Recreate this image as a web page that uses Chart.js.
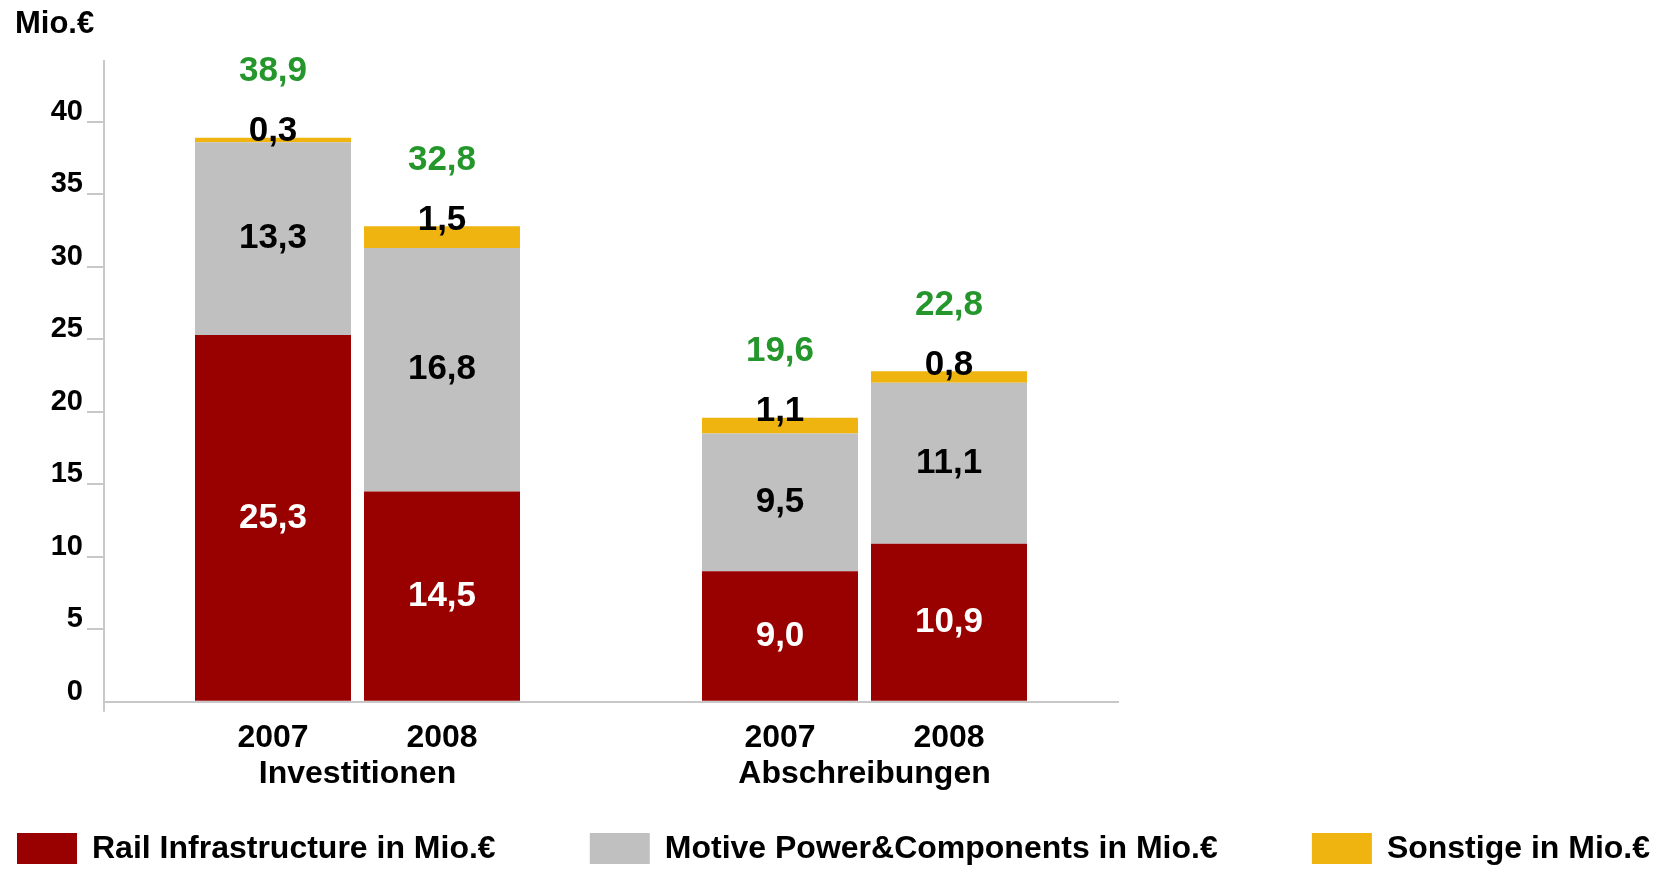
<!DOCTYPE html>
<html>
<head>
<meta charset="utf-8">
<script src="https://cdn.jsdelivr.net/npm/chart.js@4.4.1/dist/chart.umd.min.js"></script>
<style>
  html, body { margin: 0; padding: 0; background: #fff; }
</style>
</head>
<body>
<canvas id="chart" width="1657" height="869"></canvas>
<script>
// values in Mio.€
var groups = ["Investitionen", "Abschreibungen"];
var years = ["2007", "2008"];
var rail = [25.3, 14.5, 9.0, 10.9];
var motive = [13.3, 16.8, 9.5, 11.1];
var other = [0.3, 1.5, 1.1, 0.8];
var seriesNames = ["Rail Infrastructure in Mio.€", "Motive Power&Components in Mio.€", "Sonstige in Mio.€"];
var yTicksMax = 40;

var FONT = "'Liberation Sans', Arial, sans-serif";
var GREEN = "#24962c";
var AXIS = "#c8c8c8";

// one empty slot before, between and after the two groups
var xLabels = [""];
groups.forEach(function(g) {
    years.forEach(function(y) { xLabels.push(y); });
    xLabels.push("");
});

function pad(values) {
    var out = [null];
    groups.forEach(function(g, gi) {
        years.forEach(function(y, yi) { out.push(values[gi * years.length + yi]); });
        out.push(null);
    });
    return out;
}

function fmt(v) {
    return v.toFixed(1).replace(".", ",");
}

var labelColors = ["#ffffff", "#000000", "#000000"];

var valueLabels = {
    id: "valueLabels",
    afterDatasetsDraw: function(chart) {
        var ctx = chart.ctx;
        ctx.save();
        ctx.font = "bold 35px " + FONT;
        ctx.textAlign = "center";
        ctx.textBaseline = "middle";
        var n = chart.data.datasets.length;
        chart.data.datasets.forEach(function(ds, di) {
            var meta = chart.getDatasetMeta(di);
            meta.data.forEach(function(bar, i) {
                var v = ds.data[i];
                if (v == null) return;
                var p = bar.getProps(["x", "y", "base"], true);
                ctx.fillStyle = labelColors[di];
                if (di === n - 1) {
                    ctx.fillText(fmt(v), p.x, p.y - 6);
                } else {
                    ctx.fillText(fmt(v), p.x, (p.y + p.base) / 2);
                }
            });
        });
        // totals above each stack
        var topMeta = chart.getDatasetMeta(n - 1);
        topMeta.data.forEach(function(bar, i) {
            if (chart.data.datasets[n - 1].data[i] == null) return;
            var total = 0;
            chart.data.datasets.forEach(function(ds) { total += ds.data[i]; });
            var p = bar.getProps(["x", "y"], true);
            ctx.fillStyle = GREEN;
            ctx.fillText(fmt(total), p.x, p.y - 66);
        });
        ctx.restore();
    }
};

// group names centred under their two years
var groupLabels = {
    id: "groupLabels",
    afterDraw: function(chart) {
        var xs = chart.scales.x;
        var ctx = chart.ctx;
        ctx.save();
        ctx.font = "bold 32px " + FONT;
        ctx.textAlign = "center";
        ctx.textBaseline = "middle";
        ctx.fillStyle = "#000";
        groups.forEach(function(g, gi) {
            var first = 1 + gi * (years.length + 1);
            var last = first + years.length - 1;
            var cx = (xs.getPixelForValue(first) + xs.getPixelForValue(last)) / 2;
            ctx.fillText(g, cx, xs.bottom + 9);
        });
        ctx.restore();
    }
};

// legend row spread across the bottom
var bottomLegend = {
    id: "bottomLegend",
    afterDraw: function(chart) {
        var ctx = chart.ctx;
        var left = 17, right = 1650, boxW = 60, boxH = 31, top = 833, gapText = 15;
        ctx.save();
        ctx.font = "bold 32px " + FONT;
        ctx.textBaseline = "middle";
        ctx.textAlign = "left";
        var items = chart.data.datasets.map(function(ds) {
            return { text: ds.label, color: ds.backgroundColor, w: boxW + gapText + ctx.measureText(ds.label).width };
        });
        var sum = items.reduce(function(a, it) { return a + it.w; }, 0);
        var gap = (right - left - sum) / (items.length - 1);
        var x = left;
        items.forEach(function(it) {
            ctx.fillStyle = it.color;
            ctx.fillRect(x, top, boxW, boxH);
            ctx.fillStyle = "#000";
            ctx.fillText(it.text, x + boxW + gapText, top + boxH / 2 + 1);
            x += it.w + gap;
        });
        ctx.restore();
    }
};

var ctx = document.getElementById("chart").getContext("2d");
new Chart(ctx, {
    type: "bar",
    data: {
        labels: xLabels,
        datasets: [
            { label: seriesNames[0], data: pad(rail), backgroundColor: "#990000" },
            { label: seriesNames[1], data: pad(motive), backgroundColor: "#c0c0c0" },
            { label: seriesNames[2], data: pad(other), backgroundColor: "#f0b410" }
        ]
    },
    options: {
        responsive: false,
        animation: false,
        layout: { padding: { left: 15, right: 539, top: 0, bottom: 104 } },
        datasets: { bar: { categoryPercentage: 1, barPercentage: 0.923, borderWidth: 0 } },
        plugins: {
            legend: { display: false },
            tooltip: { enabled: false },
            title: {
                display: true,
                text: "Mio.€",
                align: "start",
                color: "#000",
                font: { family: FONT, size: 31, weight: "bold", lineHeight: 1 },
                padding: { top: 9, bottom: 21 }
            }
        },
        scales: {
            x: {
                type: "category",
                stacked: true,
                offset: false,
                grid: {
                    offset: false,
                    drawOnChartArea: false,
                    tickLength: 10,
                    lineWidth: 2,
                    color: function(c) { return c.index === 0 ? AXIS : "transparent"; }
                },
                border: { display: true, color: AXIS, width: 2 },
                ticks: {
                    autoSkip: false,
                    maxRotation: 0,
                    padding: 9,
                    color: "#000",
                    font: { family: FONT, size: 32, weight: "bold", lineHeight: 1.1 }
                }
            },
            y: {
                stacked: true,
                min: 0,
                max: 44.2,
                afterFit: function(scale) { scale.width = 89; },
                afterBuildTicks: function(scale) {
                    scale.ticks = scale.ticks.filter(function(t) { return t.value <= yTicksMax; });
                },
                grid: {
                    drawOnChartArea: false,
                    tickLength: 17,
                    lineWidth: 2,
                    color: function(c) { return c.tick && c.tick.value > 0 ? AXIS : "transparent"; }
                },
                border: { display: true, color: AXIS, width: 2 },
                ticks: {
                    stepSize: 5,
                    padding: 4,
                    labelOffset: -10,
                    color: "#000",
                    font: { family: FONT, size: 29, weight: "bold" }
                }
            }
        }
    },
    plugins: [valueLabels, groupLabels, bottomLegend]
});
</script>
</body>
</html>
